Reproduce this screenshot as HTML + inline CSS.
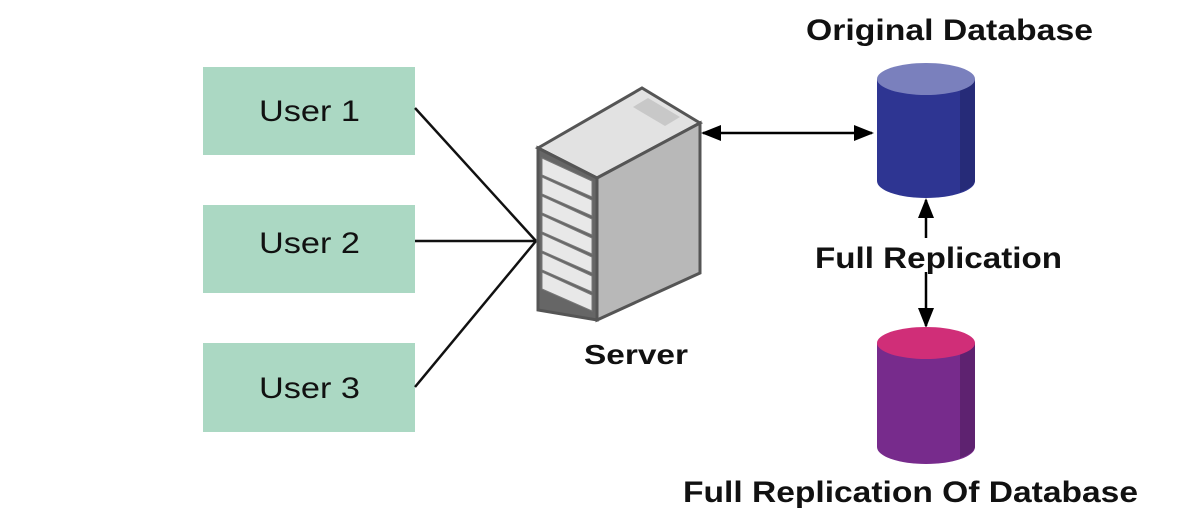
<!DOCTYPE html>
<html><head><style>
html,body{margin:0;padding:0;background:#fff;}
svg text{font-family:"Liberation Sans",sans-serif;font-weight:bold;fill:#111;}
</style></head><body>
<svg width="1180" height="510" viewBox="0 0 1180 510" xmlns="http://www.w3.org/2000/svg">
<defs>
<marker id="ah2" markerWidth="20" markerHeight="20" refX="18" refY="10" orient="auto-start-reverse" markerUnits="userSpaceOnUse" viewBox="0 0 20 20">
<path d="M0,2 L20,10 L0,18 Z" fill="#000"/></marker>
</defs>
<rect x="203" y="67" width="212" height="88" fill="#abd8c3"/>
<rect x="203" y="205" width="212" height="88" fill="#abd8c3"/>
<rect x="203" y="343" width="212" height="89" fill="#abd8c3"/>
<text x="259" y="121" font-size="30" textLength="101" lengthAdjust="spacingAndGlyphs" style="font-weight:normal">User 1</text>
<text x="259" y="253" font-size="30" textLength="101" lengthAdjust="spacingAndGlyphs" style="font-weight:normal">User 2</text>
<text x="259" y="398" font-size="30" textLength="101" lengthAdjust="spacingAndGlyphs" style="font-weight:normal">User 3</text>
<g stroke="#111" stroke-width="2.5" fill="none">
<line x1="415" y1="108" x2="536" y2="241"/>
<line x1="415" y1="241" x2="536" y2="241"/>
<line x1="415" y1="387" x2="536" y2="241"/>
</g>
<!-- server -->
<polygon points="538,148 642,88 700,123 597,178" fill="#e2e2e2" stroke="#555" stroke-width="3"/>
<polygon points="648,98 680,117 665,126 633,107" fill="#c8c8c8"/>
<polygon points="597,178 700,123 700,273 597,320" fill="#b8b8b8" stroke="#555" stroke-width="3"/>
<polygon points="538,148 597,178 597,320 538,310" fill="#666" stroke="#555" stroke-width="3"/>
<g fill="#e8e8e8" stroke="#777" stroke-width="1">
<polygon points="542,158 592,181 592,197 542,175"/>
<polygon points="542,177 592,200 592,216 542,194"/>
<polygon points="542,196 592,219 592,235 542,213"/>
<polygon points="542,215 592,238 592,254 542,232"/>
<polygon points="542,234 592,257 592,273 542,251"/>
<polygon points="542,253 592,276 592,292 542,270"/>
<polygon points="542,272 592,295 592,311 542,289"/>
</g>
<line x1="703" y1="133" x2="872" y2="133" stroke="#000" stroke-width="2.5" marker-start="url(#ah2)" marker-end="url(#ah2)"/>
<text x="584" y="364" font-size="28" textLength="104" lengthAdjust="spacingAndGlyphs">Server</text>
<!-- db1 -->
<text x="806" y="40" font-size="30" textLength="287" lengthAdjust="spacingAndGlyphs">Original Database</text>
<path d="M877,79 L877,181 A49,17 0 0 0 975,181 L975,79 Z" fill="#2e3592"/>
<path d="M960,88 L960,192 A49,17 0 0 0 975,181 L975,79 Z" fill="#262b78"/>
<ellipse cx="926" cy="79" rx="49" ry="16" fill="#7a80bd"/>
<!-- arrows -->
<line x1="926" y1="238" x2="926" y2="200" stroke="#000" stroke-width="2.5" marker-end="url(#ah2)"/>
<line x1="926" y1="272" x2="926" y2="326" stroke="#000" stroke-width="2.5" marker-end="url(#ah2)"/>
<text x="815" y="268" font-size="30" textLength="247" lengthAdjust="spacingAndGlyphs">Full Replication</text>
<!-- db2 -->
<path d="M877,343 L877,447 A49,17 0 0 0 975,447 L975,343 Z" fill="#772b8c"/>
<path d="M960,352 L960,458 A49,17 0 0 0 975,447 L975,343 Z" fill="#5e2270"/>
<ellipse cx="926" cy="343" rx="49" ry="16" fill="#d02e78"/>
<text x="683" y="502" font-size="30" textLength="455" lengthAdjust="spacingAndGlyphs">Full Replication Of Database</text>
</svg>
</body></html>
